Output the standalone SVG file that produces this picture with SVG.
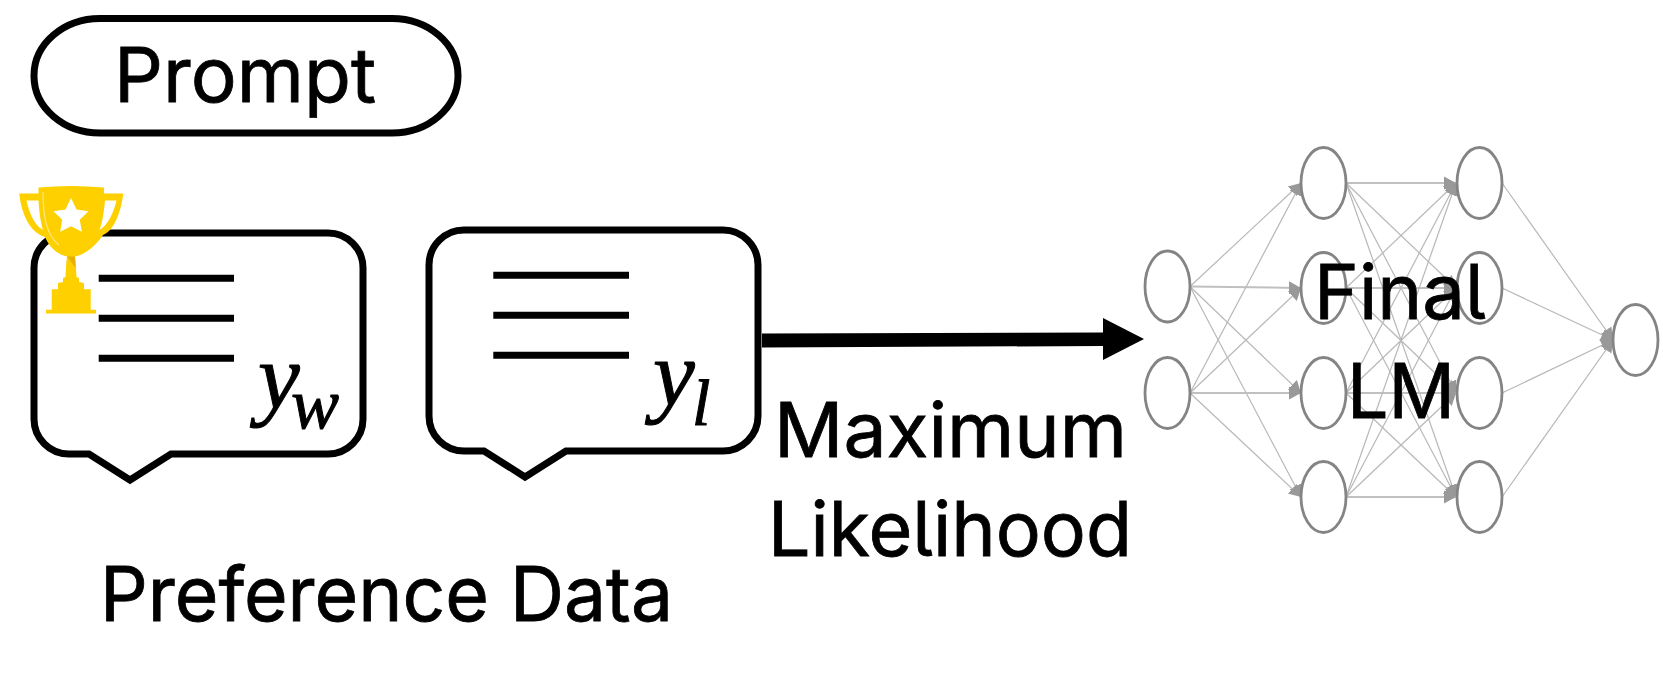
<svg xmlns="http://www.w3.org/2000/svg" width="1663" height="696" viewBox="0 0 1663 696">
<style>
.t{font-family:"Inter","Liberation Sans",sans-serif;font-size:75.5px;fill:#000;stroke:#000;stroke-width:.8;font-feature-settings:"cv05"}
.m{font-family:"Liberation Serif",serif;font-style:italic;fill:#000;stroke:#000;stroke-width:1}
.b{fill:#fff;stroke:#000;stroke-width:7;stroke-linejoin:miter}
.l{stroke:#000;stroke-width:7}
.n{fill:#fff;stroke:#848484;stroke-width:2.8}
.e line{stroke:#b8b8b8;stroke-width:1.2;marker-end:url(#ah)}
.e line.h{stroke:#c0c0c0;stroke-width:2}
</style>
<defs>
<marker id="ah" markerUnits="userSpaceOnUse" markerWidth="13" markerHeight="16" refX="12" refY="8" orient="auto"><path d="M0 1.5L12 8L0 14.5z" fill="#999"/></marker>
<path id="bub" class="b" d="M69 233H328A35 35 0 0 1 363 268V419A35 35 0 0 1 328 454H171L130 480L89 454H69A35 35 0 0 1 34 419V268A35 35 0 0 1 69 233Z"/>
</defs>
<rect width="1663" height="696" fill="#fff"/>
<g id="prompt">
<rect class="b" x="34" y="18.5" width="424" height="114.5" rx="66" ry="57"/>
<text class="t" x="114" y="101.7" textLength="262" lengthAdjust="spacingAndGlyphs">Prompt</text>
</g>
<g id="response-winner">
<use href="#bub"/>
<path class="l" d="M98.7 278.3H234M98.7 318.3H234M98.7 358.3H234"/>
<text class="m" x="258" y="408" font-size="94">y<tspan x="291" y="428" font-size="72">w</tspan></text>
</g>
<g id="trophy">
<path fill="#ffd000" d="M19.3 193.5H38.5V187.5Q71 184.5 104 187.5V193.5H123.3C121 212 114 231 103 235C95 247 84 255 75 256.5C76 263 76 270 76.5 277L79 278V282L84 283V289.3H90.7V309.7H96V313.5H46V309.7H51.7V289.3H58V283L63 282V278L65.5 277C66 270 66 263 67 256.5C58 255 49 247 45 237C29 232 21 212 19.3 193.5Z"/>
<path fill="#fff" d="M26.5 200.500H38.500C39 212 41 224 43 230C34 225 29 212 26.500 200.500ZM116.500 200.500H105C104 212 102 224 99.500 230C108 225 114 212 116.500 200.500Z"/>
<path fill="#fff" d="M71 198L76.500 209.500L88.500 211.300L79.800 219.800L81.800 231.800L71 226.200L60.200 231.800L62.200 219.800L53.500 211.300L65.500 209.500Z"/>
<path fill="none" stroke="#ffe680" stroke-width="1.300" d="M43 192C43 215 46 235 59 245"/>
<path fill="#e6b000" d="M67 256.500L75 256.500L75.500 268Z"/>
</g>
<g id="response-loser">
<use href="#bub" x="395" y="-3"/>
<path class="l" d="M493.300 275.300H629M493.300 315.300H629M493.300 355.300H629"/>
<text class="m" x="653" y="405" font-size="94">y<tspan x="692" y="425" font-size="66">l</tspan></text>
</g>
<g id="arrow-to-network">
<path fill="#000" d="M762 333.500L1103 332.500V318L1144 339L1103 360V346L762 347.500Z"/>
</g>
<g id="connectors" class="e">
<line x1="1190" y1="286.500" x2="1301" y2="183"/><line class="h" x1="1190" y1="286.500" x2="1301" y2="288"/><line x1="1190" y1="286.500" x2="1301" y2="393"/><line x1="1190" y1="286.500" x2="1301" y2="497"/>
<line x1="1190" y1="393" x2="1301" y2="183"/><line x1="1190" y1="393" x2="1301" y2="288"/><line class="h" x1="1190" y1="393" x2="1301" y2="393"/><line x1="1190" y1="393" x2="1301" y2="497"/>
<line class="h" x1="1346" y1="183" x2="1456" y2="183"/><line x1="1346" y1="183" x2="1456" y2="288"/><line x1="1346" y1="183" x2="1456" y2="393"/><line x1="1346" y1="183" x2="1456" y2="497"/>
<line x1="1346" y1="288" x2="1456" y2="183"/><line class="h" x1="1346" y1="288" x2="1456" y2="288"/><line x1="1346" y1="288" x2="1456" y2="393"/><line x1="1346" y1="288" x2="1456" y2="497"/>
<line x1="1346" y1="393" x2="1456" y2="183"/><line x1="1346" y1="393" x2="1456" y2="288"/><line class="h" x1="1346" y1="393" x2="1456" y2="393"/><line x1="1346" y1="393" x2="1456" y2="497"/>
<line x1="1346" y1="497" x2="1456" y2="183"/><line x1="1346" y1="497" x2="1456" y2="288"/><line x1="1346" y1="497" x2="1456" y2="393"/><line class="h" x1="1346" y1="497" x2="1456" y2="497"/>
<line x1="1502" y1="183" x2="1613" y2="340"/><line x1="1502" y1="288" x2="1613" y2="340"/><line x1="1502" y1="393" x2="1613" y2="340"/><line x1="1502" y1="497" x2="1613" y2="340"/>
</g>
<g id="n1-1"><ellipse class="n" cx="1167.500" cy="286.500" rx="22.500" ry="35.500"/></g>
<g id="n1-2"><ellipse class="n" cx="1167.500" cy="393" rx="22.500" ry="35.500"/></g>
<g id="n2-1"><ellipse class="n" cx="1323.500" cy="183" rx="22.500" ry="35.500"/></g>
<g id="n2-2"><ellipse class="n" cx="1323.500" cy="288" rx="22.500" ry="35.500"/></g>
<g id="n2-3"><ellipse class="n" cx="1323.500" cy="393" rx="22.500" ry="35.500"/></g>
<g id="n2-4"><ellipse class="n" cx="1323.500" cy="497" rx="22.500" ry="35.500"/></g>
<g id="n3-1"><ellipse class="n" cx="1479.500" cy="183" rx="22.500" ry="35.500"/></g>
<g id="n3-2"><ellipse class="n" cx="1479.500" cy="288" rx="22.500" ry="35.500"/></g>
<g id="n3-3"><ellipse class="n" cx="1479.500" cy="393" rx="22.500" ry="35.500"/></g>
<g id="n3-4"><ellipse class="n" cx="1479.500" cy="497" rx="22.500" ry="35.500"/></g>
<g id="n4-1"><ellipse class="n" cx="1635.500" cy="340" rx="22.500" ry="35.500"/></g>
<g id="labels">
<text class="t" x="1314" y="319" textLength="172" lengthAdjust="spacingAndGlyphs">Final</text>
<text class="t" x="1347" y="418" textLength="108" lengthAdjust="spacingAndGlyphs">LM</text>
<text class="t" x="774" y="456.700" textLength="353" lengthAdjust="spacingAndGlyphs">Maximum</text>
<text class="t" x="768" y="556" textLength="364" lengthAdjust="spacingAndGlyphs">Likelihood</text>
<text class="t" x="100" y="621" textLength="573" lengthAdjust="spacingAndGlyphs">Preference Data</text>
</g>
</svg>
